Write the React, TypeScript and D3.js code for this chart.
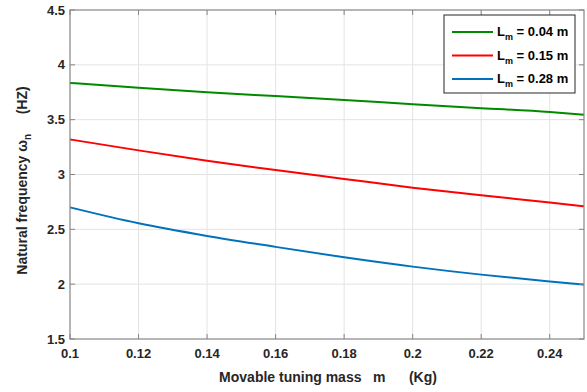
import { useRef, useEffect } from 'react';
import * as d3 from 'd3';

const MASS = [0.1, 0.12, 0.14, 0.16, 0.18, 0.2, 0.22, 0.24, 0.25];
const FREQ_004 = [3.835, 3.79, 3.75, 3.715, 3.68, 3.64, 3.605, 3.57, 3.545];
const FREQ_015 = [3.32, 3.22, 3.125, 3.04, 2.96, 2.88, 2.81, 2.745, 2.71];
const FREQ_028 = [2.7, 2.555, 2.44, 2.34, 2.245, 2.16, 2.087, 2.025, 1.995];
const X_TICKS = [0.1, 0.12, 0.14, 0.16, 0.18, 0.2, 0.22, 0.24];
const Y_TICKS = [1.5, 2, 2.5, 3, 3.5, 4, 4.5];

const SERIES = [
  { label: '0.04', values: FREQ_004, color: '#008a00' },
  { label: '0.15', values: FREQ_015, color: '#ff0000' },
  { label: '0.28', values: FREQ_028, color: '#0072bd' },
];

const W = 587;
const H = 392;
const FONT = '"Liberation Sans", Arial, sans-serif';

export default function App() {
  const svgRef = useRef<SVGSVGElement>(null);

  useEffect(() => {
    const svg = d3.select(svgRef.current);
    svg.selectAll('*').remove();

    const m = { left: 70, right: 3, top: 10, bottom: 53 };
    const x = d3.scaleLinear().domain([0.1, 0.25]).range([m.left, W - m.right]);
    const y = d3.scaleLinear().domain([1.5, 4.5]).range([H - m.bottom, m.top]);
    const [x0, x1] = x.range();
    const [y0, y1] = y.range();

    svg.append('rect').attr('width', W).attr('height', H).attr('fill', '#fff');

    // grid
    const grid = svg.append('g').attr('stroke', '#e3e3e3').attr('stroke-width', 1);
    X_TICKS.slice(1).forEach(t => {
      grid.append('line').attr('x1', x(t)).attr('x2', x(t)).attr('y1', y0).attr('y2', y1);
    });
    Y_TICKS.slice(1, -1).forEach(t => {
      grid.append('line').attr('x1', x0).attr('x2', x1).attr('y1', y(t)).attr('y2', y(t));
    });

    // curves
    const line = d3.line<number>()
      .x((_d, i) => x(MASS[i]))
      .y(d => y(d))
      .curve(d3.curveMonotoneX);

    SERIES.forEach(s => {
      svg.append('path')
        .attr('d', line(s.values))
        .attr('fill', 'none')
        .attr('stroke', s.color)
        .attr('stroke-width', 2);
    });

    // axes box + inward ticks
    const axisColor = '#858585';
    const box = svg.append('g').attr('stroke', axisColor).attr('fill', 'none');
    box.append('rect')
      .attr('x', x0).attr('y', y1)
      .attr('width', x1 - x0).attr('height', y0 - y1)
      .attr('stroke-width', 1.2);
    X_TICKS.forEach(t => {
      box.append('line').attr('x1', x(t)).attr('x2', x(t)).attr('y1', y0).attr('y2', y0 - 5);
      box.append('line').attr('x1', x(t)).attr('x2', x(t)).attr('y1', y1).attr('y2', y1 + 5);
    });
    Y_TICKS.forEach(t => {
      box.append('line').attr('x1', x0).attr('x2', x0 + 5).attr('y1', y(t)).attr('y2', y(t));
      box.append('line').attr('x1', x1).attr('x2', x1 - 5).attr('y1', y(t)).attr('y2', y(t));
    });

    const tickFmt = d3.format('~g');
    const labels = svg.append('g')
      .attr('font-family', FONT)
      .attr('font-size', 13)
      .attr('font-weight', 'bold')
      .attr('fill', '#262626');
    X_TICKS.forEach(t => {
      labels.append('text')
        .attr('x', x(t)).attr('y', y0 + 19)
        .attr('text-anchor', 'middle')
        .text(tickFmt(t));
    });
    Y_TICKS.forEach(t => {
      labels.append('text')
        .attr('x', x0 - 5).attr('y', y(t) + 4.5)
        .attr('text-anchor', 'end')
        .text(tickFmt(t));
    });

    // axis titles
    svg.append('text')
      .attr('x', (x0 + x1) / 2 + 1).attr('y', H - 10)
      .attr('text-anchor', 'middle')
      .attr('font-family', FONT).attr('font-size', 14).attr('font-weight', 'bold')
      .attr('fill', '#262626')
      .style('white-space', 'pre')
      .text('Movable tuning mass   m      (Kg)');

    const yt = svg.append('text')
      .attr('transform', `translate(27,${(y0 + y1) / 2 + 6}) rotate(-90)`)
      .attr('text-anchor', 'middle')
      .attr('font-family', FONT).attr('font-size', 14).attr('font-weight', 'bold')
      .attr('fill', '#262626')
      .style('white-space', 'pre');
    yt.append('tspan').text('Natural frequency \u03c9');
    yt.append('tspan').attr('font-size', 10).attr('dy', 4).text('n');
    yt.append('tspan').attr('dy', -4).text('     (HZ)');

    // legend
    const lg = svg.append('g').attr('transform', 'translate(444,15)');
    lg.append('rect')
      .attr('width', 131).attr('height', 78)
      .attr('fill', '#fff').attr('stroke', '#262626').attr('stroke-width', 1);
    SERIES.forEach((s, i) => {
      const cy = 17 + i * 23.5;
      lg.append('line')
        .attr('x1', 8).attr('x2', 49).attr('y1', cy).attr('y2', cy)
        .attr('stroke', s.color).attr('stroke-width', 2);
      const t = lg.append('text')
        .attr('x', 53).attr('y', cy + 4)
        .attr('font-family', FONT).attr('font-size', 13).attr('font-weight', 'bold')
        .attr('fill', '#000');
      t.append('tspan').text('L');
      t.append('tspan').attr('font-size', 9).attr('dy', 4).text('m');
      t.append('tspan').attr('dy', -4).text(` = ${s.label} m`);
    });
  }, []);

  return (
    <div style={{ position: 'fixed', left: 0, top: 0 }}>
      <svg ref={svgRef} width={W} height={H} style={{ display: 'block' }} />
    </div>
  );
}
